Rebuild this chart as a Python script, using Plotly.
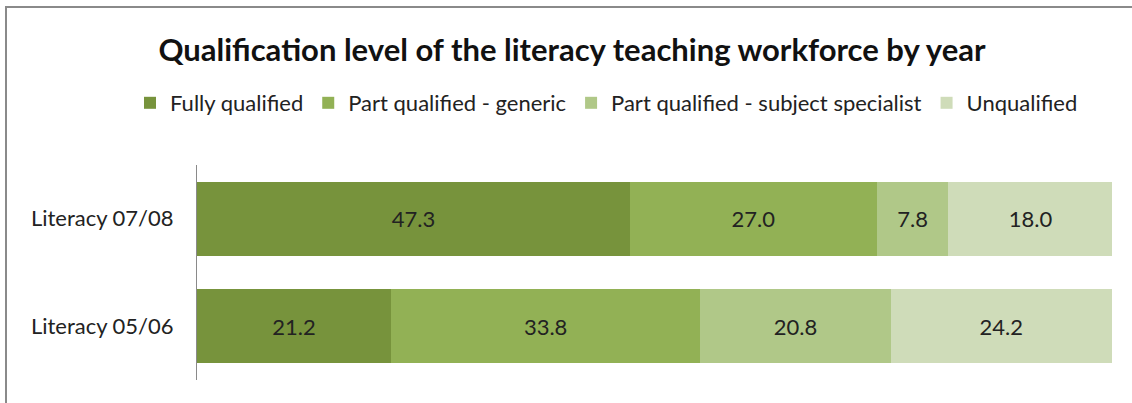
import plotly.graph_objects as go

categories = ["Literacy 05/06", "Literacy 07/08"]
series_names = ["Fully qualified", "Part qualified - generic",
                "Part qualified - subject specialist", "Unqualified"]
fully = [21.2, 47.3]
generic = [33.8, 27.0]
specialist = [20.8, 7.8]
unqualified = [24.2, 18.0]
colors = ["#77933C", "#92B155", "#B0C888", "#CFDCB9"]

FONT = "Lato"

fig = go.Figure()
for name, vals, col in zip(series_names, [fully, generic, specialist, unqualified], colors):
    fig.add_trace(go.Bar(
        y=categories, x=vals, name=name, orientation="h",
        marker=dict(color=col, line=dict(width=0)),
        text=[f"{v:.1f}" for v in vals], textposition="inside",
        insidetextanchor="middle", constraintext="none",
        textfont=dict(family=FONT, size=22, color="#222222"),
        width=0.69,
    ))

L, R, T, B = 197, 20, 165, 23
W, H = 1132, 403
pw, ph = W - L - R, H - T - B

def px(x):
    return (x - L) / pw

def py(y):
    return (H - B - y) / ph

fig.update_layout(
    barmode="stack",
    width=W, height=H,
    margin=dict(l=L, r=R, t=T, b=B),
    paper_bgcolor="white", plot_bgcolor="white",
    title=dict(text="<b>Qualification level of the literacy teaching workforce by year</b>",
               x=572 / W, xanchor="center", y=1 - 50 / H, yanchor="middle",
               yref="container",
               font=dict(family=FONT, size=31, color="#111111")),
    legend=dict(orientation="h", x=px(130), xanchor="left", y=py(103), yanchor="middle",
                font=dict(family=FONT, size=22, color="#222222"),
                traceorder="normal", itemwidth=30),
    showlegend=True,
    xaxis=dict(range=[0, 100], visible=False, fixedrange=True),
    yaxis=dict(showline=True, linecolor="#8a8a8a", linewidth=1, ticks="",
               showgrid=False, ticklabelstandoff=18,
               tickfont=dict(family=FONT, size=22, color="#222222")),
    shapes=[dict(type="rect", xref="paper", yref="paper",
                 x0=px(6), x1=px(1145), y0=py(7), y1=py(420),
                 line=dict(color="#8a8a8a", width=2), fillcolor="rgba(0,0,0,0)",
                 layer="below")],
)

fig.write_html("out.html", config={"displayModeBar": False},
               post_script="document.body.style.margin='0px';")
